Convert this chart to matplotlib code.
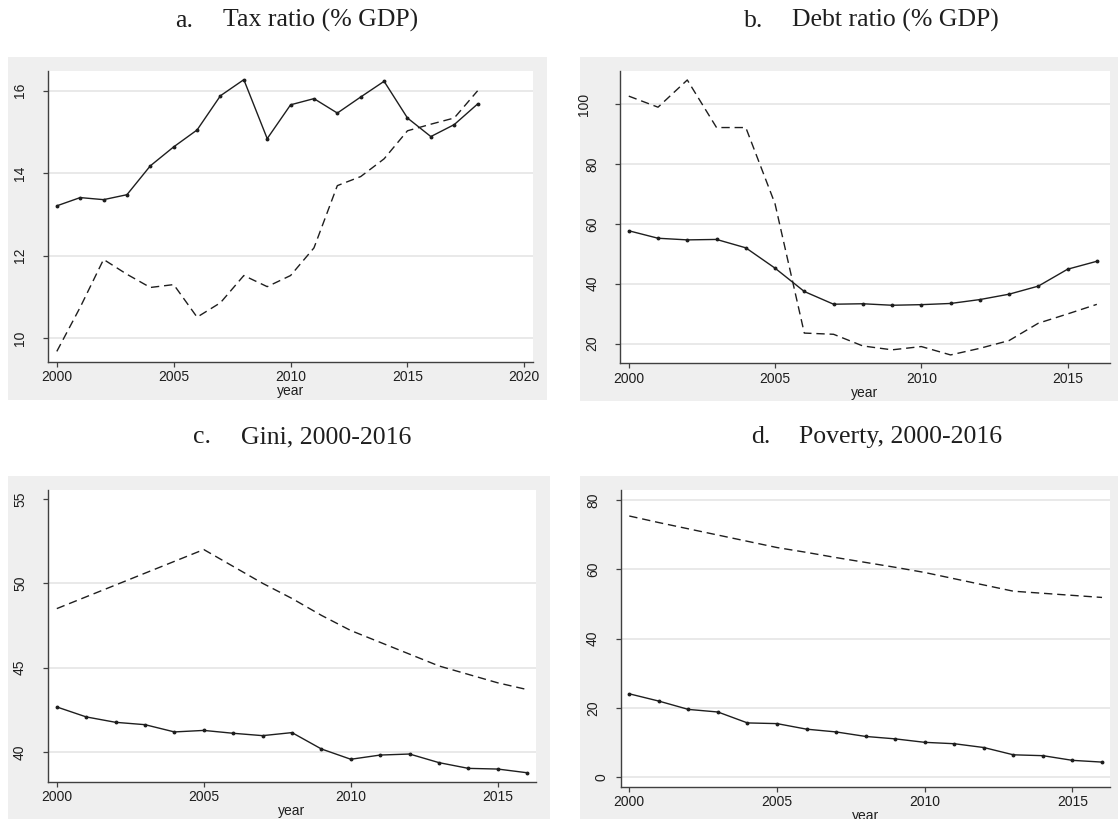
import matplotlib
matplotlib.use("Agg")
import matplotlib.pyplot as plt
import matplotlib.transforms as mtransforms
from matplotlib.patches import Rectangle

W, H = 1118, 819

# data (solid = first series, dashed = second series)
years_tax = list(range(2000, 2019))
tax_solid = [13.21, 13.41, 13.36, 13.48, 14.18, 14.64, 15.05, 15.88, 16.27, 14.84,
             15.66, 15.81, 15.46, 15.85, 16.23, 15.34, 14.89, 15.18, 15.68]
tax_dash = [9.68, 10.75, 11.91, 11.55, 11.23, 11.30, 10.51, 10.86, 11.52, 11.25,
            11.52, 12.19, 13.70, 13.92, 14.35, 15.03, 15.19, 15.34, 16.0]

years = list(range(2000, 2017))
debt_solid = [57.7, 55.2, 54.65, 54.8, 52.0, 45.2, 37.4, 33.15, 33.3, 32.8,
              33.0, 33.4, 34.7, 36.5, 39.2, 44.85, 47.5]
debt_dash = [102.7, 99.0, 108.1, 92.2, 92.2, 66.7, 23.5, 23.1, 19.2, 17.9,
             19.0, 16.2, 18.4, 21.0, 26.8, 29.9, 33.1]

gini_solid = [42.67, 42.08, 41.76, 41.62, 41.19, 41.28, 41.11, 40.97, 41.15, 40.18,
              39.57, 39.82, 39.88, 39.37, 39.03, 38.99, 38.77]
gini_dash = [48.5, 49.2, 49.9, 50.6, 51.3, 52.0, 51.0, 50.0, 49.1, 48.1,
             47.2, 46.5, 45.8, 45.1, 44.6, 44.1, 43.7]

pov_solid = [24.1, 22.0, 19.6, 18.85, 15.7, 15.5, 13.9, 13.1, 11.8, 11.1,
             10.1, 9.7, 8.6, 6.5, 6.25, 4.9, 4.4]
pov_dash = [75.4, 73.5, 71.7, 69.9, 68.1, 66.3, 64.9, 63.4, 62.0, 60.6,
            59.1, 57.3, 55.5, 53.7, 53.1, 52.5, 51.9]

fig = plt.figure(figsize=(W / 100, H / 100), dpi=100)
fig.patch.set_facecolor("white")

GREY = "#efefef"
INK = "#1e1e1e"


def frac(x0, y0, x1, y1):
    return [x0 / W, 1 - y1 / H, (x1 - x0) / W, (y1 - y0) / H]


def panel(box, plot, xlim, ylim, xticks, yticks, x, solid, dash,
          letter, title, tpos, skip_top_grid=False):
    b = frac(*box)
    fig.add_artist(Rectangle((b[0], b[1]), b[2], b[3], transform=fig.transFigure,
                             facecolor=GREY, edgecolor="none", zorder=0))
    ax = fig.add_axes(frac(*plot))
    ax.set_facecolor("white")
    ax.set_xlim(*xlim)
    ax.set_ylim(*ylim)
    ax.set_xticks(xticks)
    ax.set_yticks(yticks)
    ax.set_yticklabels([])
    for s in ["top", "right"]:
        ax.spines[s].set_visible(False)
    for s in ["left", "bottom"]:
        ax.spines[s].set_color("#404040")
        ax.spines[s].set_linewidth(1.0)
    ax.tick_params(direction="out", length=3.8, width=0.9, color="#404040",
                   labelsize=10, labelcolor=INK)
    ax.tick_params(axis="x", pad=2.5)
    ax.yaxis.grid(True, color="#e9e9e9", lw=1.4)
    ax.set_axisbelow(True)
    if skip_top_grid:
        ax.get_ygridlines()[-1].set_visible(False)

    # rotated y labels, placed Stata-style
    for v in yticks:
        lab = str(v)
        off = mtransforms.ScaledTranslation(-(11 + 8.3 * len(lab)) / 100, 0,
                                            fig.dpi_scale_trans)
        ax.text(0, v, lab, rotation=90, ha="center", va="center", fontsize=10,
                color=INK, transform=ax.get_yaxis_transform() + off, clip_on=False)

    ax.plot(x, solid, color=INK, lw=1.0, marker="o", markersize=1.8)
    ax.plot(x, dash, color=INK, lw=1.0, dashes=(6, 3.5))
    ax.set_xlabel("year", fontsize=10, color=INK, labelpad=0)

    fig.text(tpos[0] / W, 1 - tpos[1] / H, letter, ha="left", va="baseline",
             family="Liberation Serif", fontsize=18.5, color=INK)
    fig.text((tpos[0] + 48) / W, 1 - tpos[1] / H, title, ha="left", va="baseline",
             family="Liberation Serif", fontsize=18.5, color=INK)
    return ax


plt.rcParams["font.family"] = ["Liberation Sans", "DejaVu Sans"]

panel((8, 57, 547, 400), (47.7, 71, 533, 361.7), (1999.61, 2020.37), (9.43, 16.48),
      [2000, 2005, 2010, 2015, 2020], [10, 12, 14, 16],
      years_tax, tax_solid, tax_dash, "a.", "Tax ratio (% GDP)", (175, 27))

panel((580, 57, 1130, 401), (620, 71, 1110, 363.3), (1999.7, 2016.45), (13.4, 111.1),
      [2000, 2005, 2010, 2015], [20, 40, 60, 80, 100],
      years, debt_solid, debt_dash, "b.", "Debt ratio (% GDP)", (744, 27))

panel((8, 476, 550, 830), (47.7, 490, 535.7, 781.7), (1999.69, 2016.29), (38.24, 55.53),
      [2000, 2005, 2010, 2015], [40, 45, 50, 55],
      years, gini_solid, gini_dash, "c.", "Gini, 2000-2016", (193, 443),
      skip_top_grid=True)

panel((580, 476, 1130, 830), (620.7, 490, 1110, 786.7), (1999.71, 2016.27), (-2.7, 82.9),
      [2000, 2005, 2010, 2015], [0, 20, 40, 60, 80],
      years, pov_solid, pov_dash, "d.", "Poverty, 2000-2016", (751, 443))

fig.savefig("out.png", dpi=100, facecolor="white")
